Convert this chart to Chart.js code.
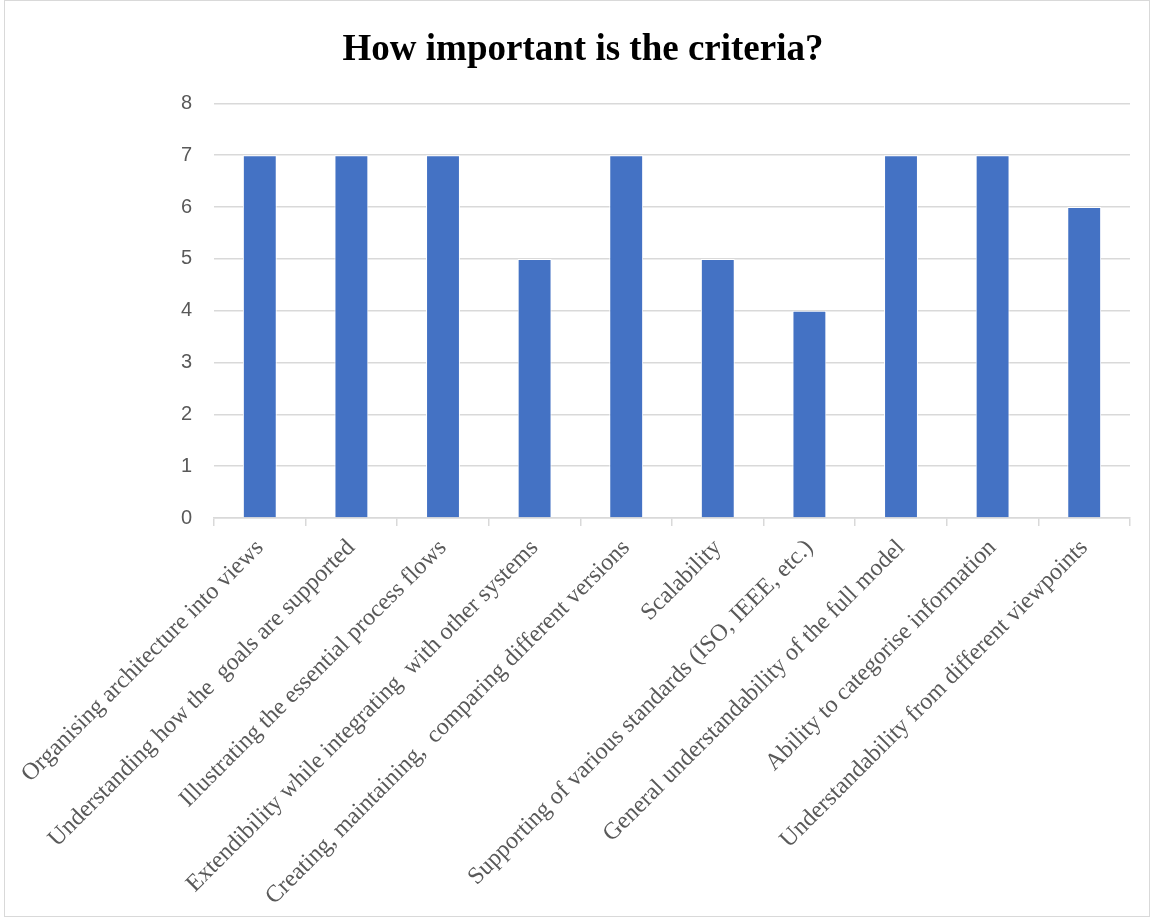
<!DOCTYPE html>
<html>
<head>
<meta charset="utf-8">
<script src="https://cdn.jsdelivr.net/npm/chart.js@4"></script>
<style>
  html, body { margin: 0; padding: 0; background: #fff; }
  #wrap { position: relative; width: 1153px; height: 920px; }
  #frame { position: absolute; left: 4px; top: 0; width: 1146px; height: 917px; border: 1px solid #d9d9d9; box-sizing: border-box; pointer-events: none; }
</style>
</head>
<body>
<div id="wrap">
  <canvas id="chart" width="1153" height="920"></canvas>
  <div id="frame"></div>
</div>
<script>
// Criteria (category labels, kept with the original spacing)
const criteria = [
    'Organising architecture into views',
    'Understanding how the  goals are supported',
    'Illustrating the essential process flows',
    'Extendibility while integrating  with other systems',
    'Creating, maintaining,  comparing different versions',
    'Scalability',
    'Supporting of various standards (ISO, IEEE, etc.)',
    'General understandability of the full model',
    'Ability to categorise information',
    'Understandability from different viewpoints'
];

// Importance scores
const scores = [7, 7, 7, 5, 7, 5, 4, 7, 7, 6];

// Y axis range
const yMin = 0;
const yMax = 8;

const ctx = document.getElementById('chart').getContext('2d');
new Chart(ctx, {
    type: 'bar',
    data: {
        labels: criteria,
        datasets: [{
            label: 'Score',
            data: scores,
            backgroundColor: '#4472C4',
            borderColor: '#ffffff',
            borderWidth: 1,
            barPercentage: 0.37,
            categoryPercentage: 1
        }]
    },
    options: {
        responsive: false,
        animation: false,
        layout: {
            padding: { top: 14, right: 23, bottom: 0, left: 36 }
        },
        scales: {
            x: {
                grid: {
                    offset: true,
                    drawOnChartArea: false,
                    color: '#d9d9d9',
                    lineWidth: 1.5,
                    tickLength: 8
                },
                border: { color: '#d9d9d9', width: 1.5 },
                ticks: {
                    autoSkip: false,
                    maxRotation: 45,
                    minRotation: 45,
                    padding: 8,
                    color: '#595959',
                    font: { family: 'Liberation Serif', size: 24 }
                },
                afterFit: function (scale) { scale.height = 402; }
            },
            y: {
                min: yMin,
                max: yMax,
                ticks: {
                    stepSize: 1,
                    padding: 22,
                    color: '#595959',
                    font: { family: 'Liberation Sans', size: 20 }
                },
                grid: {
                    color: '#d9d9d9',
                    lineWidth: 1.5,
                    drawTicks: false
                },
                border: { display: false },
                afterFit: function (scale) { scale.width = 178; }
            }
        },
        plugins: {
            legend: { display: false },
            tooltip: { enabled: false },
            title: {
                display: true,
                text: 'How important is the criteria?',
                color: '#000000',
                font: { family: 'Liberation Serif', size: 37, weight: 'bold' },
                padding: { top: 14, bottom: 31 }
            }
        }
    }
});
</script>
</body>
</html>
